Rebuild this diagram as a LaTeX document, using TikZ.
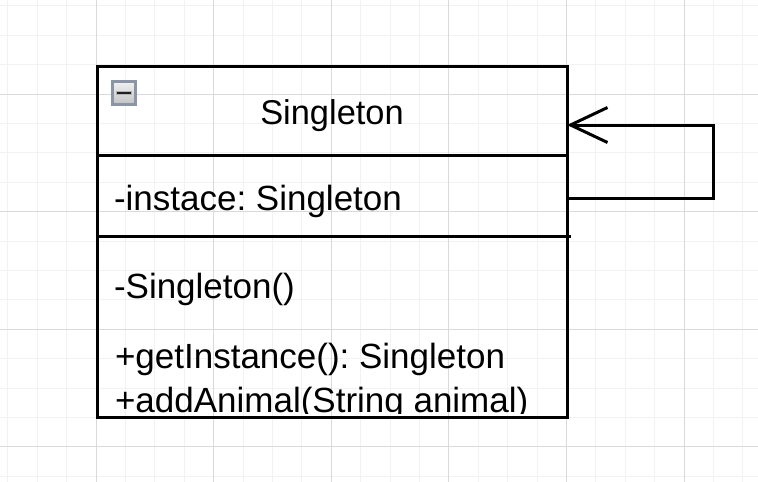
\documentclass[tikz,border=0pt]{standalone}
\usepackage{fontspec}
\setmainfont{Liberation Sans}
\usetikzlibrary{arrows.meta}
\definecolor{gridminor}{HTML}{F2F2F2}
\definecolor{gridmajor}{HTML}{DADADA}
\definecolor{iconborder}{HTML}{8C95A6}
\definecolor{icontop}{HTML}{F2F2F2}
\definecolor{iconbottom}{HTML}{C2C2C6}
\begin{document}
\frenchspacing
\begin{tikzpicture}[x=1pt,y=-1pt,
  umltext/.style={font=\fontsize{34.4pt}{40pt}\selectfont\frenchspacing, inner sep=0pt, outer sep=0pt, text=black},
  member/.style={umltext, font=\fontsize{35pt}{40pt}\selectfont\frenchspacing, anchor=base west},
  umlline/.style={line width=3pt, draw=black},
  gridminorline/.style={draw=gridminor, line width=1pt},
  gridmajorline/.style={draw=gridmajor, line width=1pt}]
\useasboundingbox (0,0) rectangle (758,482);
\fill[white] (0,0) rectangle (758,482);
% grid
\foreach \k in {0,...,26} {\pgfmathsetmacro\gx{-21.6+29.4*\k} \draw[gridminorline] (\gx,0) -- (\gx,482);}
\foreach \k in {0,...,17} {\pgfmathsetmacro\gy{-23.6+29.4*\k} \draw[gridminorline] (0,\gy) -- (758,\gy);}
\foreach \k in {0,...,7} {\pgfmathsetmacro\gx{-21.6+117.6*\k} \draw[gridmajorline] (\gx,0) -- (\gx,482);}
\foreach \k in {0,...,5} {\pgfmathsetmacro\gy{-23.6+117.6*\k} \draw[gridmajorline] (0,\gy) -- (758,\gy);}
% class box
\node[umlline, draw, minimum width=470pt, minimum height=351.5pt, outer sep=0pt, inner sep=0pt, anchor=north west] (cls) at (97,66) {};
\node[umltext, anchor=base] (title) at (332,124) {Singleton};
\draw[umlline] (cls.west |- 0,155) -- (cls.east |- 0,155);
\draw[umlline] (cls.west |- 0,236.7) -- (571,236.7);
\node[member] (attr) at (114,210.5) {-instace: Singleton};
\node[member] (ctor) at (114,298.5) {-Singleton()};
\node[member] (getinst) at (115,368) {+getInstance(): Singleton};
\begin{scope}
\clip (97,66) rectangle (567,413.5);
\node[member] (addanimal) at (115,412.5) {+addAnimal(String animal)};
\end{scope}
% collapse icon
\node[draw=iconborder, line width=2.5pt, top color=icontop, bottom color=iconbottom, minimum size=23pt, inner sep=0pt, outer sep=0pt] (toggle) at (123.8,92.8) {};
\draw[draw=gray!60, fill=black!88, line width=0.6pt] (116,91.2) rectangle (131.6,94.4);
% self association
\coordinate (selfout) at (567,198);
\coordinate (selfin) at (567,125);
\draw[umlline, -{Straight Barb[length=37pt, width=35pt, line width=3pt]}] (selfout) -- (713,198) -- (713,125) -- (selfin);
\end{tikzpicture}
\end{document}
